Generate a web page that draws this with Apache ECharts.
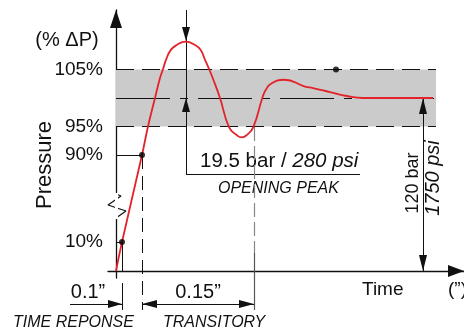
<!DOCTYPE html>
<html>
<head>
<meta charset="utf-8">
<script src="https://cdn.jsdelivr.net/npm/echarts@6/dist/echarts.min.js"></script>
<style>
  html, body { margin: 0; padding: 0; background: #fff; }
  #chart { width: 464px; height: 331px; }
</style>
</head>
<body>
<div id="chart"></div>
<script>
// 压力响应曲线（示意图，时间为示意单位）
const timeVals = [0, 6, 26, 32, 39, 44, 46.7, 50, 54.7, 60.7, 69.7, 79, 84.7, 89, 93.5, 96.7, 104, 113, 120.7, 125.7, 130.7, 137.3, 146.3, 149.7, 155.7, 168.3, 189, 197, 214, 231, 247, 317]
const pressurePct = [0, 10, 90, 95, 100, 103.5, 104.9, 106.7, 108.4, 109.3, 109.9, 109.3, 108.4, 106.7, 104.9, 103.5, 100, 94.9, 93.5, 93.1, 93.5, 94.9, 100, 101.4, 102.6, 103.2, 102.0, 101.75, 101.05, 100.35, 100, 100]

// y 轴刻度
const tickPct = [10, 90, 95, 105]
const tickLabels = ['10%', '90%', '95%', '105%']

// 断轴：百分比 -> 轴高度
const breakPct = [0, 10, 90, 120]
const breakHeight = [0, 29, 116, 287]

// 标记点
const dotTime = [6, 26, 220]
const dotPct = [10, 90, 105]

const FONT = '"Liberation Sans", Arial, sans-serif'

const H = (p) => {
  for (let i = 1; i < breakPct.length; i++) {
    if (p <= breakPct[i] || i === breakPct.length - 1) {
      const k = (p - breakPct[i - 1]) / (breakPct[i] - breakPct[i - 1])
      return breakHeight[i - 1] + k * (breakHeight[i] - breakHeight[i - 1])
    }
  }
}

const chart = echarts.init(document.getElementById('chart'))

const arrowEnd = (w, h) => ({ symbol: 'triangle', symbolSize: [w, h], symbolOffset: [0, h / 2] })
const plain = { symbol: 'none' }
const seg = (a, b, style, sa, sb) => [
  Object.assign({ coord: a }, sa || plain),
  Object.assign({ coord: b }, sb || plain, { lineStyle: style })
]
const solid = { color: '#111', width: 1, type: 'solid' }
const dashed = { color: '#111', width: 1, type: [18, 8] }

// 标注线（叠加网格，单位与主图一致）
const guides = [
  seg([0, H(105)], [320, H(105)], dashed),
  seg([0, H(95)], [320, H(95)], dashed),
  seg([0, H(100)], [320, H(100)], { color: '#111', width: 1, type: [54, 10, 8, 10] }),
  seg([0, H(90)], [26, H(90)], solid),
  seg([0, H(10)], [6, H(10)], solid),
  seg([26, H(90)], [26, -39], { color: '#111', width: 1, type: [14, 7] }),
  seg([6, H(10)], [6, 0], solid),
  seg([6, -12], [6, -39], solid),
  // 开启峰值
  seg([70, 261], [70, H(110)], solid, plain, arrowEnd(8, 14)),
  seg([70, H(110)], [70, 97], solid),
  seg([70, 97], [70, H(100)], solid, plain, arrowEnd(8, 14)),
  seg([70, 97], [244, 97], solid),
  // 过渡结束
  seg([138, 144], [138, 18], { color: '#888', width: 1.2, type: [14, 5] }),
  seg([138, 18], [138, -39], { color: '#555', width: 1.2, type: 'solid' }),
  // 时间尺寸线
  seg([-46, -33], [6, -33], solid, plain, arrowEnd(8, 14)),
  seg([26, -33], [138, -33], solid, arrowEnd(8, 15), arrowEnd(8, 15)),
  // 120 bar
  seg([307, H(100)], [307, 0], solid, arrowEnd(8, 16), arrowEnd(8, 16)),
  // 断轴白底
  seg([0, 78], [0, 52], { color: '#fff', width: 3, type: 'solid' })
]

const zigzag = [[0, 77], [5, 75], [-8, 66], [10, 60], [0, 53]]

const txt = (text, x, y, size, extra) => ({
  type: 'text',
  x, y,
  rotation: (extra && extra.rotation) || 0,
  style: Object.assign({
    text,
    fontSize: size,
    fontFamily: FONT,
    fill: '#111',
    align: 'center',
    verticalAlign: 'middle'
  }, extra && extra.style)
})

const hiddenAxis = { show: false, axisLine: { onZero: false }, splitLine: { show: false } }

const option = {
  animation: false,
  grid: [
    { left: 108, right: 0, top: 10, bottom: 53 },
    { left: 0, right: 0, top: 0, bottom: 0 }
  ],
  xAxis: [
    {
      type: 'value',
      min: -8,
      max: 348,
      axisLine: {
        onZero: true,
        symbol: ['none', 'triangle'],
        symbolSize: [12, 16],
        symbolOffset: [0, -8],
        lineStyle: { color: '#111', width: 1.3 }
      },
      axisTick: { show: false },
      axisLabel: { show: false },
      splitLine: { show: false }
    },
    Object.assign({ type: 'value', gridIndex: 1, min: -116, max: 348 }, hiddenAxis)
  ],
  yAxis: [
    {
      type: 'value',
      min: -7,
      max: 261,
      axisLine: {
        onZero: true,
        symbol: ['none', 'triangle'],
        symbolSize: [12, 18],
        symbolOffset: [0, -9],
        lineStyle: { color: '#111', width: 1.3 }
      },
      axisTick: { show: false },
      splitLine: { show: false },
      axisLabel: {
        customValues: tickPct.map(H),
        margin: 5,
        fontSize: 19,
        fontFamily: FONT,
        color: '#111',
        formatter: (v) => {
          let best = 0
          tickPct.forEach((p, i) => {
            if (Math.abs(H(p) - v) < Math.abs(H(tickPct[best]) - v)) best = i
          })
          return tickLabels[best]
        }
      }
    },
    Object.assign({ type: 'value', gridIndex: 1, min: -60, max: 271 }, hiddenAxis)
  ],
  series: [
    {
      type: 'line',
      data: [],
      z: 1,
      silent: true,
      markArea: {
        silent: true,
        itemStyle: { color: '#cbcbcb' },
        data: [[{ coord: [0, H(105)] }, { coord: [320, H(95)] }]]
      }
    },
    {
      type: 'line',
      xAxisIndex: 1,
      yAxisIndex: 1,
      data: [],
      z: 3,
      silent: true,
      markLine: {
        silent: true,
        animation: false,
        symbol: ['none', 'none'],
        label: { show: false },
        emphasis: { disabled: true },
        data: guides
      }
    },
    {
      type: 'line',
      xAxisIndex: 1,
      yAxisIndex: 1,
      z: 4,
      silent: true,
      showSymbol: false,
      lineStyle: { color: '#111', width: 1.2 },
      data: zigzag
    },
    {
      type: 'line',
      z: 5,
      silent: true,
      smooth: 0.5,
      showSymbol: false,
      lineStyle: { color: '#e3232a', width: 1.8 },
      data: timeVals.map((t, i) => [t, H(pressurePct[i])])
    },
    {
      type: 'scatter',
      z: 6,
      silent: true,
      symbolSize: 6,
      itemStyle: { color: '#000' },
      data: dotTime.map((t, i) => [t, H(dotPct[i])])
    }
  ],
  graphic: [
    txt('(% ΔP)', 67, 40, 20),
    txt('Pressure', 45, 165, 22, { rotation: Math.PI / 2 }),
    txt('19.5 bar / {i|280 psi}', 200, 161, 20.5, {
      style: { align: 'left', rich: { i: { fontStyle: 'italic', fontSize: 20.5, fontFamily: FONT } } }
    }),
    txt('OPENING PEAK', 218, 189, 16, { style: { align: 'left', fontStyle: 'italic' } }),
    txt('0.1\u201d', 88, 292, 20),
    txt('0.15\u201d', 198, 292, 20),
    txt('TIME REPONSE', 13, 323, 16, { style: { align: 'left', fontStyle: 'italic' } }),
    txt('TRANSITORY', 163, 323, 16, { style: { align: 'left', fontStyle: 'italic' } }),
    txt('Time', 362, 290, 19, { style: { align: 'left' } }),
    txt('(\u201d)', 448, 290, 19, { style: { align: 'left' } }),
    txt('120 bar', 413, 183, 18, { rotation: Math.PI / 2 }),
    txt('1750 psi', 433, 178, 20, { rotation: Math.PI / 2, style: { fontStyle: 'italic' } })
  ]
}

chart.setOption(option)
</script>
</body>
</html>
